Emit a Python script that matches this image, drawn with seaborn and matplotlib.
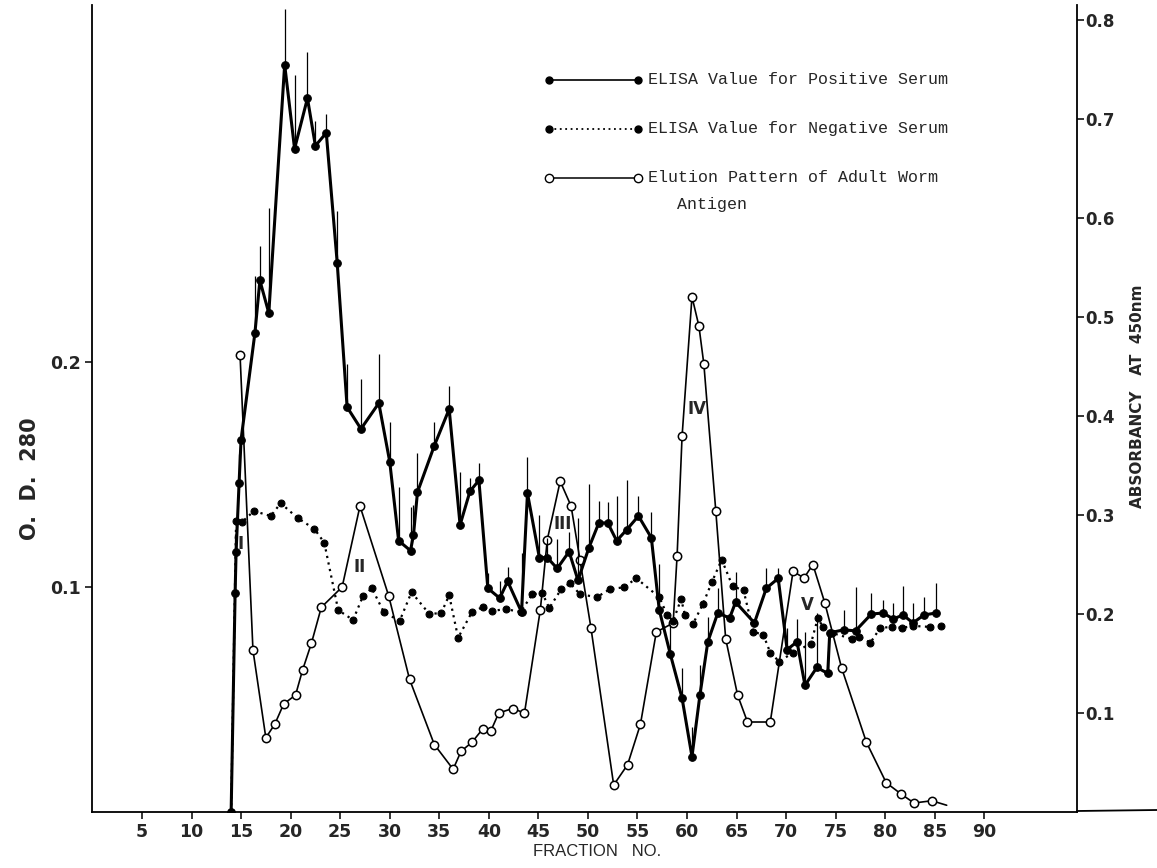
import numpy as np
import pandas as pd
import matplotlib
matplotlib.use("Agg")
import matplotlib.pyplot as plt
import seaborn as sns

# ---- data -------------------------------------------------------------
# ELISA absorbance (450 nm) of the positive serum, per fraction
pos_frac = [14.0, 14.4, 14.5, 14.8, 15.0, 16.4, 16.9, 17.8, 19.4, 20.4, 21.7, 22.5,
            23.6, 24.7, 25.7, 27.1, 28.9, 30.0, 30.9, 32.1, 32.4, 32.8, 34.5, 36.0,
            37.1, 38.1, 39.0, 39.9, 41.1, 41.9, 43.3, 43.9, 45.1, 45.9, 46.9, 48.1,
            49.0, 50.1, 51.1, 52.0, 52.9, 53.9, 55.1, 56.4, 57.2, 58.3, 59.5, 60.5,
            61.3, 62.1, 63.1, 64.3, 64.9, 66.8, 68.0, 69.2, 70.1, 71.1, 71.9, 73.1,
            74.2, 74.4, 75.8, 77.0, 78.6, 79.8, 80.8, 81.8, 82.8, 83.9, 85.1]
pos_abs = [0.000, 0.221, 0.263, 0.332, 0.376, 0.484, 0.537, 0.504, 0.755, 0.670, 0.721, 0.673,
           0.686, 0.555, 0.409, 0.387, 0.413, 0.354, 0.274, 0.264, 0.280, 0.323, 0.370, 0.407,
           0.290, 0.324, 0.335, 0.226, 0.216, 0.233, 0.202, 0.322, 0.257, 0.257, 0.246, 0.263,
           0.234, 0.267, 0.292, 0.292, 0.274, 0.285, 0.299, 0.277, 0.204, 0.160, 0.115, 0.056,
           0.118, 0.172, 0.201, 0.196, 0.212, 0.191, 0.226, 0.236, 0.164, 0.172, 0.128, 0.146,
           0.140, 0.181, 0.184, 0.183, 0.200, 0.201, 0.195, 0.199, 0.191, 0.199, 0.201]
pos_err = [0.000, 0.060, 0.030, 0.030, 0.000, 0.057, 0.035, 0.106, 0.056, 0.074, 0.047, 0.025,
           0.019, 0.052, 0.044, 0.050, 0.050, 0.040, 0.054, 0.044, 0.030, 0.040, 0.024, 0.023,
           0.053, 0.013, 0.018, 0.015, 0.017, 0.014, 0.060, 0.037, 0.043, 0.020, 0.030, 0.020,
           0.063, 0.064, 0.022, 0.021, 0.045, 0.050, 0.020, 0.026, 0.047, 0.030, 0.030, 0.030,
           0.030, 0.025, 0.025, 0.000, 0.030, 0.000, 0.020, 0.010, 0.022, 0.023, 0.054, 0.055,
           0.023, 0.000, 0.020, 0.044, 0.021, 0.013, 0.016, 0.029, 0.020, 0.018, 0.030]

# ELISA absorbance (450 nm) of the negative serum
neg_frac = [14.0, 14.5, 15.1, 16.3, 18.0, 19.0, 20.7, 22.4, 23.4, 24.8, 26.3, 27.3,
            28.2, 29.4, 31.0, 32.2, 34.0, 35.2, 36.0, 36.9, 38.3, 39.4, 40.3, 41.7,
            43.2, 44.4, 45.4, 46.1, 47.3, 48.2, 49.2, 50.9, 52.2, 53.6, 54.9, 57.2,
            58.0, 58.6, 59.4, 59.8, 60.6, 61.6, 62.5, 63.5, 64.6, 65.7, 66.7, 67.7,
            68.4, 69.3, 70.7, 72.5, 73.2, 73.7, 74.6, 76.6, 77.4, 78.5, 79.5, 80.7,
            81.7, 82.8, 84.5, 85.6]
neg_abs = [0.000, 0.294, 0.293, 0.304, 0.299, 0.312, 0.297, 0.286, 0.272, 0.204, 0.194, 0.218,
           0.226, 0.202, 0.193, 0.222, 0.200, 0.201, 0.219, 0.176, 0.202, 0.207, 0.203, 0.205,
           0.202, 0.220, 0.221, 0.206, 0.225, 0.231, 0.220, 0.217, 0.225, 0.227, 0.236, 0.217,
           0.199, 0.193, 0.215, 0.199, 0.190, 0.210, 0.232, 0.255, 0.228, 0.224, 0.182, 0.179,
           0.161, 0.152, 0.161, 0.170, 0.196, 0.187, 0.181, 0.175, 0.177, 0.171, 0.186, 0.187,
           0.186, 0.188, 0.187, 0.188]

# Elution pattern of adult worm antigen, O.D. 280
elu_frac = [14.9, 16.2, 17.5, 18.4, 19.3, 20.5, 21.2, 22.1, 23.1, 25.2, 27.0, 29.9,
            32.0, 34.5, 36.4, 37.2, 38.3, 39.4, 40.2, 41.0, 42.4, 43.6, 45.2, 45.9,
            47.2, 48.3, 49.2, 50.3, 52.6, 54.0, 55.3, 56.9, 58.6, 59.0, 59.5, 60.5,
            61.2, 61.7, 62.9, 63.9, 65.1, 66.1, 68.4, 70.7, 71.8, 72.7, 73.9, 75.6,
            78.1, 80.1, 81.6, 82.9, 84.7, 86.2]
elu_od = [0.203, 0.072, 0.033, 0.039, 0.048, 0.052, 0.063, 0.075, 0.091, 0.100, 0.136, 0.096,
          0.059, 0.030, 0.019, 0.027, 0.031, 0.037, 0.036, 0.044, 0.046, 0.044, 0.090, 0.121,
          0.147, 0.136, 0.112, 0.082, 0.012, 0.021, 0.039, 0.080, 0.084, 0.114, 0.167, 0.229,
          0.216, 0.199, 0.134, 0.077, 0.052, 0.040, 0.040, 0.107, 0.104, 0.110, 0.093, 0.064,
          0.031, 0.013, 0.008, 0.004, 0.005, 0.003]

x_ticks = list(range(5, 95, 5))
left_ticks = [0.1, 0.2]
right_ticks = [0.1, 0.2, 0.3, 0.4, 0.5, 0.6, 0.7, 0.8]

peak_names = ["I", "II", "III", "IV", "V"]
peak_pos = [(14.9, 0.119), (27.0, 0.109), (47.5, 0.128), (61.0, 0.179), (72.1, 0.092)]

legend_labels = ["ELISA Value for Positive Serum",
                 "ELISA Value for Negative Serum",
                 "Elution Pattern of Adult Worm"]
legend_extra = "Antigen"

# ---- figure -----------------------------------------------------------
sns.set_theme(style="white")
plt.rcParams["font.family"] = ["DejaVu Sans"]

W, H = 1157, 868
fig = plt.figure(figsize=(W / 100, H / 100), dpi=100)
fig.patch.set_facecolor("white")

def fx(px):
    return px / W

def fy(py):
    return 1 - py / H

ax = fig.add_axes([fx(92.4), fy(812), fx(1077) - fx(92.4), fy(5) - fy(812)])
ax.set_facecolor("white")
ax2 = ax.twinx()

ax.set_xlim(0, 99.35)
ax.set_ylim(0, 0.3587)
ax2.set_ylim(0, 0.8152)

elu_df = pd.DataFrame({"fraction": elu_frac, "od": elu_od})
pos_df = pd.DataFrame({"fraction": pos_frac, "abs": pos_abs, "err": pos_err})
neg_df = pd.DataFrame({"fraction": neg_frac, "abs": neg_abs})

# elution profile: thin line, open circles
sns.lineplot(data=elu_df, x="fraction", y="od", ax=ax, sort=False, estimator=None,
             color="black", lw=1.2, marker="o", markersize=6,
             markerfacecolor="white", markeredgecolor="black", markeredgewidth=1.1,
             markevery=list(range(len(elu_frac) - 1)))

# negative serum: dotted line, small filled dots
sns.lineplot(data=neg_df, x="fraction", y="abs", ax=ax2, sort=False, estimator=None,
             color="black", lw=1.6, linestyle=(0, (1, 2)), marker="o", markersize=5,
             markerfacecolor="black", markeredgecolor="black")

# positive serum: heavy line, filled dots, one-sided error bars
ax2.vlines(pos_df["fraction"], pos_df["abs"], pos_df["abs"] + pos_df["err"],
           color="black", lw=0.9)
sns.lineplot(data=pos_df, x="fraction", y="abs", ax=ax2, sort=False, estimator=None,
             color="black", lw=2.2, marker="o", markersize=5.5,
             markerfacecolor="black", markeredgecolor="black")

# peak numerals
for name, (xf, yv) in zip(peak_names, peak_pos):
    ax.text(xf, yv, name, fontsize=12, fontweight="bold", ha="center", va="center")

# ---- axes styling -----------------------------------------------------
for a in (ax, ax2):
    a.spines["top"].set_visible(False)
    for s in a.spines.values():
        s.set_linewidth(1.3)
        s.set_color("black")
ax.spines["right"].set_visible(False)
ax2.spines["left"].set_visible(False)
ax2.spines["bottom"].set_visible(False)

# the baseline runs on past the right-hand axis to the edge
fig.add_artist(plt.Line2D([fx(1077), 1.0], [fy(811), fy(810)], color="black", lw=1.3,
                          transform=fig.transFigure))

tick_font = dict(fontsize=12.5, fontweight="bold")
ax.set_xticks(x_ticks)
ax.set_xticklabels([str(t) for t in x_ticks], **tick_font)
ax.set_yticks(left_ticks)
ax.set_yticklabels([f"{t:.1f}" for t in left_ticks], **tick_font)
ax2.set_yticks(right_ticks)
ax2.set_yticklabels([f"{t:.1f}" for t in right_ticks], fontsize=12, fontweight="bold")
ax.tick_params(axis="both", direction="out", length=5, width=1.1, color="black", pad=3,
               bottom=True, left=True)
ax2.tick_params(axis="y", direction="out", length=5, width=1.1, color="black", pad=1,
                right=True)
ax.set_xlabel("")
ax.set_ylabel("")
ax2.set_ylabel("")

fig.text(fx(597), fy(852), "FRACTION   NO.", fontsize=12, ha="center", va="center",
         family="Liberation Sans")
fig.text(fx(30), fy(479), "O.  D.  280", fontsize=15, fontweight="bold", rotation=90,
         ha="center", va="center")
fig.text(fx(1137), fy(396), "ABSORBANCY   AT  450nm", fontsize=11, fontweight="bold",
         rotation=90, ha="center", va="center")

# ---- key --------------------------------------------------------------
key_y = [80, 129, 178]
key_x0, key_x1, text_x = 549, 638, 648
styles = [dict(ls="-", lw=1.2, marker="o", mfc="black", ms=5),
          dict(ls=(0, (1, 2)), lw=1.3, marker="o", mfc="black", ms=5),
          dict(ls="-", lw=1.1, marker="o", mfc="white", ms=6)]
for yk, st, lab in zip(key_y, styles, legend_labels):
    fig.add_artist(plt.Line2D([fx(key_x0), fx(key_x1)], [fy(yk), fy(yk)], color="black",
                              mec="black", transform=fig.transFigure, **st))
    fig.text(fx(text_x), fy(yk), lab, fontsize=12, family="Liberation Mono",
             ha="left", va="center")
fig.text(fx(677), fy(204), legend_extra, fontsize=12, family="Liberation Mono",
         ha="left", va="center")

fig.savefig("out.png", dpi=100, facecolor="white")
